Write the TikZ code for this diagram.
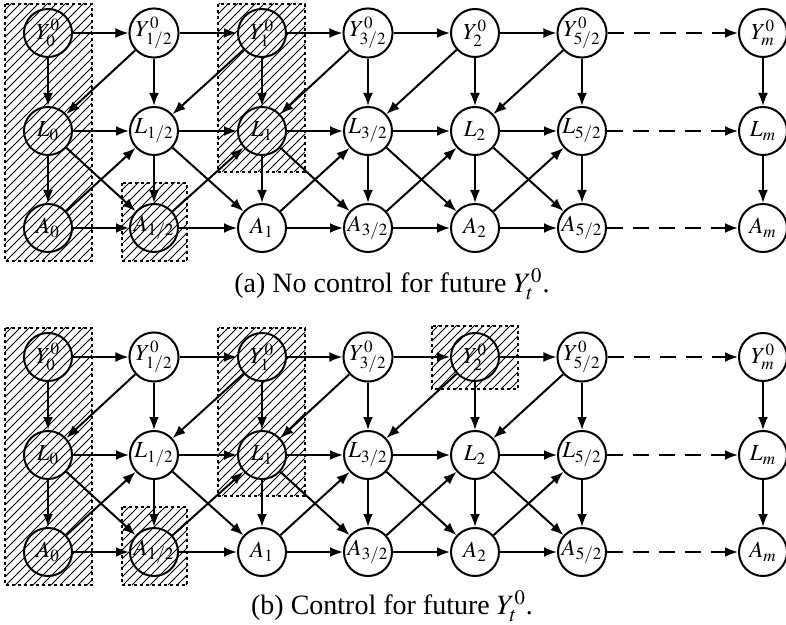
\documentclass[tikz,border=0pt]{standalone}
\usepackage{mathptmx}
\usepackage[no-math]{fontspec}
\setmainfont{Liberation Serif}
\usetikzlibrary{arrows.meta}
\tikzset{>={Latex[length=6.5pt,width=5pt]}}
\tikzstyle{var}=[draw,circle,line width=1pt,minimum size=24pt,inner sep=0pt,font=\fontsize{11.5}{13}\selectfont]
\tikzstyle{edge}=[->,line width=1pt]
\tikzstyle{farline}=[->,line width=1pt,dash pattern=on 8pt off 5pt]
\tikzstyle{boxline}=[draw,line width=1pt,dash pattern=on 1.5pt off 1.5pt]
\tikzstyle{hatchline}=[line width=0.4pt]
\newcommand\hatchbox[4]{%
  \begin{scope}
    \clip (#1,#2) rectangle (#3,#4);
    \foreach \k in {-300,-291,...,800}
      \draw[hatchline] (\k,#4) -- ++(400,-400);
  \end{scope}
  \draw[boxline] (#1,#2) rectangle (#3,#4);}

\begin{document}
\begin{tikzpicture}[x=0.5pt,y=-0.5pt]
  \useasboundingbox (0,0) rectangle (786,625);
  \foreach \p/\yo in {a/0,b/324}{
    \begin{scope}[shift={(0,\yo)}]
      \hatchbox{5}{4}{92}{261}
      \hatchbox{218}{4}{305}{172}
      \hatchbox{122}{183}{187}{261}
      \foreach \n/\x/\s in {0/48/0,1h/154/{1/2},1/262/1,3h/368/{3/2},2/475/2,5h/582/{5/2},m/763/m}{
        \node[var] (\p y\n) at (\x,33) {$Y^0_{\s}$};
        \node[var] (\p l\n) at (\x,131) {$L_{\s}$};
        \node[var] (\p a\n) at (\x,228) {$A_{\s}$};
        \draw[edge] (\p y\n) -- (\p l\n);
        \draw[edge] (\p l\n) -- (\p a\n);
      }
      \foreach \i/\j in {0/1h,1h/1,1/3h,3h/2,2/5h}{
        \draw[edge] (\p y\i) -- (\p y\j);
        \draw[edge] (\p l\i) -- (\p l\j);
        \draw[edge] (\p a\i) -- (\p a\j);
        \draw[edge] (\p y\j) -- (\p l\i);
        \draw[edge] (\p l\i) -- (\p a\j);
        \draw[edge] (\p a\i) -- (\p l\j);
      }
      \foreach \r in {y,l,a}
        \draw[farline] (\p\r5h) -- (\p\r m);
    \end{scope}
  }
  \hatchbox{432}{326}{518}{389}
  \node[font=\fontsize{14}{16}\selectfont] (capa) at (392,284) {(a) No control for future $Y_t^0$.};
  \node[font=\fontsize{14}{16}\selectfont] (capb) at (392,606) {(b) Control for future $Y_t^0$.};
\end{tikzpicture}
\end{document}
